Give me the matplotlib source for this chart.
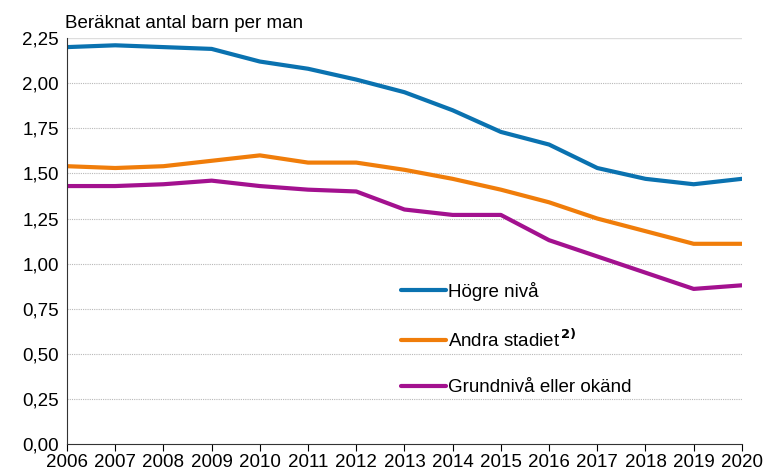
import numpy as np
import matplotlib.pyplot as plt

plt.rcParams['font.family'] = ['Liberation Sans', 'DejaVu Sans']

years = list(range(2006, 2021))
hogre = [2.20, 2.21, 2.20, 2.19, 2.12, 2.08, 2.02, 1.95, 1.85, 1.73, 1.66, 1.53, 1.47, 1.44, 1.47]
andra = [1.54, 1.53, 1.54, 1.57, 1.60, 1.56, 1.56, 1.52, 1.47, 1.41, 1.34, 1.25, 1.18, 1.11, 1.11]
grund = [1.43, 1.43, 1.44, 1.46, 1.43, 1.41, 1.40, 1.30, 1.27, 1.27, 1.13, 1.04, 0.95, 0.86, 0.88]
labels = ['Högre nivå', 'Andra stadiet$^{\\,\\mathbf{2)}}$', 'Grundnivå eller okänd']
colors = ['#0a72b0', '#f07d0a', '#a3118f']
yticks = [0, 0.25, 0.5, 0.75, 1.0, 1.25, 1.5, 1.75, 2.0, 2.25]

fs = 13.5
fig = plt.figure(figsize=(7.66, 4.76), dpi=100)
ax = fig.add_axes([0.0875, 0.067, 0.881, 0.853])

for vals, lab, c in zip([hogre, andra, grund], labels, colors):
    ax.plot(years, vals, color=c, lw=3, label=lab, solid_capstyle='round')

ax.set_xlim(2006, 2020)
ax.set_ylim(0, 2.25)
ax.set_xticks(years)
ax.set_yticks(yticks)
ax.set_yticklabels([f'{v:.2f}'.replace('.', ',') for v in yticks])
ax.tick_params(axis='y', length=0, labelsize=fs, pad=6)
ax.tick_params(axis='x', direction='out', length=5, labelsize=fs, color='black', pad=2)

for v in yticks[1:-1]:
    ax.axhline(v, color='#b8b8b8', lw=0.8, ls=(0, (1, 1)), zorder=0)
ax.axhline(2.25, color='#dddddd', lw=1, zorder=0)

for s in ['top', 'right']:
    ax.spines[s].set_visible(False)
ax.spines['left'].set_color('#333333')
ax.spines['bottom'].set_color('#333333')

ax.text(-0.003, 1.015, 'Beräknat antal barn per man', transform=ax.transAxes,
        fontsize=fs, ha='left', va='bottom')

leg = ax.legend(loc='upper left', bbox_to_anchor=(0.495, 0.40), frameon=False,
                fontsize=fs, handlelength=2.4, handletextpad=0.1,
                labelspacing=1.5, borderpad=0, borderaxespad=0)

fig.savefig('out.png', dpi=100)
